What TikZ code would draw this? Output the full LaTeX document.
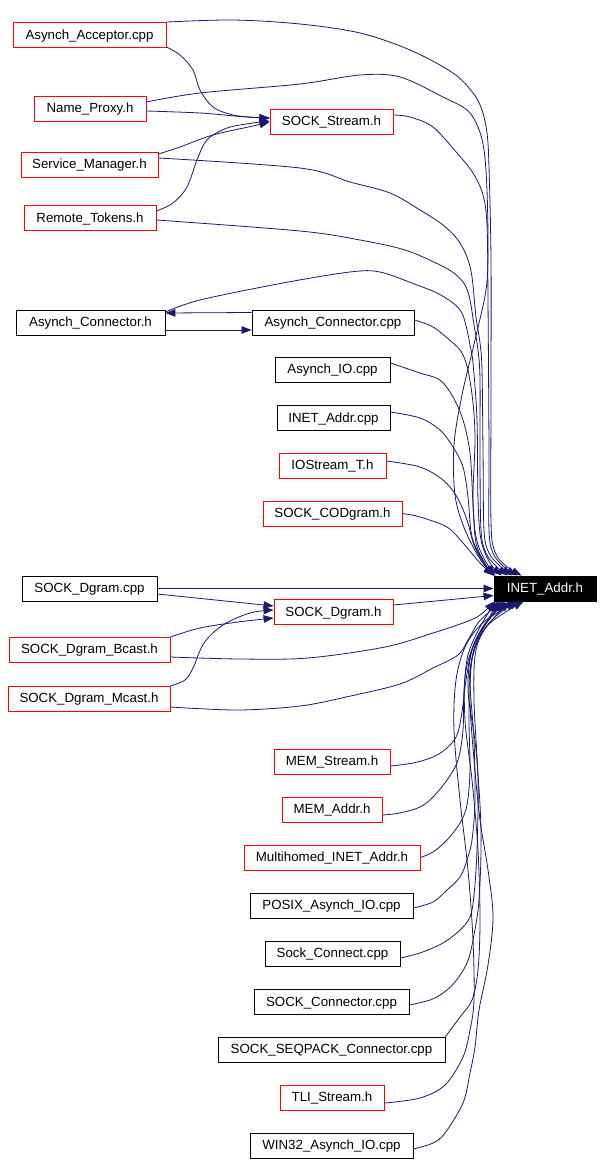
\documentclass[tikz,border=0pt]{standalone}
\usepackage{fontspec}
\newfontfamily\labfont{Liberation Sans}
\usetikzlibrary{arrows.meta}
\definecolor{edgecol}{RGB}{25,25,112}
\begin{document}
\begin{tikzpicture}[x=1pt,y=-1pt,
  box/.style={draw, line width=0.9pt, inner sep=0pt, minimum height=25pt, text height=9.6pt, text depth=1pt, font=\labfont\fontsize{13.3}{15}\selectfont, fill=white},
  rbox/.style={box, draw=red},
  bbox/.style={box, draw=black},
  rootbox/.style={box, draw=black, fill=black, text=white},
  edge/.style={draw=edgecol, line width=0.8pt, -{Triangle[length=10pt,width=7.5pt]}},
  curved/.style={edge, smooth, tension=0.55}]
\useasboundingbox (0,0) rectangle (602,1164);
\fill[white] (0,0) rectangle (602,1164);

% nodes
\node[rbox, minimum width=153pt] (aac) at (89.5,35) {Asynch\_Acceptor.cpp};
\node[rbox, minimum width=112pt] (np) at (90,108.5) {Name\_Proxy.h};
\node[rbox, minimum width=137pt] (sm) at (89.5,164.5) {Service\_Manager.h};
\node[rbox, minimum width=132pt] (rt) at (90,218) {Remote\_Tokens.h};
\node[rbox, minimum width=123pt] (ss) at (331.5,121.5) {SOCK\_Stream.h};
\node[bbox, minimum width=149pt] (ach) at (90.5,322.5) {Asynch\_Connector.h};
\node[bbox, minimum width=162pt] (acc) at (333,322.5) {Asynch\_Connector.cpp};
\node[bbox, minimum width=115pt] (aio) at (332.5,369.5) {Asynch\_IO.cpp};
\node[bbox, minimum width=113pt] (iac) at (333.5,418) {INET\_Addr.cpp};
\node[rbox, minimum width=107pt] (iot) at (332.5,465.5) {IOStream\_T.h};
\node[rbox, minimum width=139pt] (scod) at (332.5,513.5) {SOCK\_CODgram.h};
\node[bbox, minimum width=135pt] (sdc) at (89.5,588.5) {SOCK\_Dgram.cpp};
\node[rootbox, minimum width=102pt] (inet) at (545,588.5) {INET\_Addr.h};
\node[rbox, minimum width=119pt] (sdh) at (333.5,612) {SOCK\_Dgram.h};
\node[rbox, minimum width=161pt] (sdb) at (89.5,649.5) {SOCK\_Dgram\_Bcast.h};
\node[rbox, minimum width=162pt] (sdm) at (89,698.5) {SOCK\_Dgram\_Mcast.h};
\node[rbox, minimum width=116pt] (mems) at (332,761.5) {MEM\_Stream.h};
\node[rbox, minimum width=100pt] (mema) at (332,809.5) {MEM\_Addr.h};
\node[rbox, minimum width=176pt] (mia) at (332,857.5) {Multihomed\_INET\_Addr.h};
\node[bbox, minimum width=163pt] (pai) at (331.5,905.5) {POSIX\_Asynch\_IO.cpp};
\node[bbox, minimum width=135pt] (sc) at (332.5,953.5) {Sock\_Connect.cpp};
\node[bbox, minimum width=155pt] (sco) at (331.5,1002) {SOCK\_Connector.cpp};
\node[bbox, minimum width=227pt] (ssp) at (331.5,1049.5) {SOCK\_SEQPACK\_Connector.cpp};
\node[rbox, minimum width=104pt] (tli) at (332,1097.5) {TLI\_Stream.h};
\node[bbox, minimum width=163pt] (win) at (331.5,1145.5) {WIN32\_Asynch\_IO.cpp};

% edges into SOCK_Stream.h
\draw[curved] plot coordinates {([yshift=1pt]aac.south east) (180,55) (193,70) (200,90) (213,107) (233,115) (257,117.5) ([yshift=4pt]ss.west)};
\draw[curved] plot coordinates {([yshift=-2.5pt]np.east) (200,113) (240,116.5) ([yshift=3pt]ss.west)};
\draw[curved] plot coordinates {([yshift=10.5pt]sm.east) (180,147) (213,135) (253,126) ([yshift=-0.5pt]ss.west)};
\draw[curved] plot coordinates {([yshift=7pt]rt.east) (173,203) (187,187) (197,160) (207,140) (227,128) (253,123) ([yshift=0.5pt]ss.west)};

% Asynch_Connector pair
\draw[edge] ([yshift=-7.5pt]ach.east) -- ([yshift=-7.5pt]acc.west);
\draw[edge] ([yshift=10pt]acc.west) -- ([yshift=9.5pt]ach.east);

% edges into SOCK_Dgram.h
\draw[edge] ([yshift=-5.5pt]sdc.east) -- ([yshift=6pt]sdh.west);
\draw[curved] plot coordinates {([yshift=12.5pt]sdb.east) (200,628) (238,622) ([yshift=-6pt]sdh.west)};
\draw[curved] plot coordinates {([yshift=12.5pt]sdm.east) (185,680) (193,668) (204,643) (223,625) (250,613) ([yshift=2pt]sdh.west)};

% edges into INET_Addr.h from above
\draw[curved] plot coordinates {(aac.north east) (233,20) (300,24) (360,33) (410,50) (453,73) (473,93) (482,110) (487,133) (489,167) (491,260) (491,400) (491,522) (495,552) (506,566) ([xshift=28pt]inet.north west)};
\draw[curved] plot coordinates {([yshift=6.5pt]np.east) (200,93) (300,84) (360,75) (400,77) (443,97) (467,110) (478,127) (484,150) (487,190) (488,250) (486,290) (475,340) (462,395) (454,445) (455,495) (465,530) (482,562) ([xshift=2pt]inet.north west)};
\draw[curved] plot coordinates {([yshift=6.5pt]ss.east) (410,117) (433,127) (457,153) (473,173) (483,195) (487,225) (488,300) (489,450) (489,530) (493,553) (503,566) ([xshift=23pt]inet.north west)};
\draw[curved] plot coordinates {([yshift=6.5pt]sm.east) (300,168) (350,182) (390,193) (420,210) (443,225) (458,240) (467,257) (472,277) (476,317) (480,343) (482,370) (483,450) (484,530) (489,553) (500,566) ([xshift=18pt]inet.north west)};
\draw[curved] plot coordinates {([yshift=-2pt]rt.east) (300,231) (360,240) (405,250) (440,265) (455,274) (465,285) (470,300) (474,325) (478,350) (480,380) (480,460) (481,530) (486,553) (496,566) ([xshift=14pt]inet.north west)};
\draw[curved] plot coordinates {([yshift=10.5pt]ach.east) (200,300) (283,283) (350,272) (380,272) (417,285) (437,293) (453,303) (462,313) (467,330) (470,345) (473,363) (477,420) (478,500) (481,540) (490,563) ([xshift=8pt]inet.north west)};
\draw[curved] plot coordinates {([yshift=2.5pt]acc.east) (433,327) (453,343) (462,353) (468,370) (473,403) (475,440) (473,503) (478,545) ([xshift=1pt]inet.north west)};
\draw[curved] plot coordinates {([yshift=6.5pt]aio.east) (420,373) (440,380) (453,397) (463,420) (470,453) (473,503) (476,543) (486,565) (inet.north west)};
\draw[curved] plot coordinates {([yshift=6pt]iac.east) (420,418) (440,430) (453,447) (463,467) (468,497) (472,537) (484,563) (inet.north west)};
\draw[curved] plot coordinates {([yshift=4.5pt]iot.east) (420,467) (443,480) (457,497) (467,520) (474,545) (485,565) (inet.north west)};
\draw[curved] plot coordinates {(scod.east) (420,517) (447,527) (463,543) (480,563) (inet.north west)};

% straight-ish edges from the left
\draw[edge] (sdc.east) -- (inet.west);
\draw[edge] ([yshift=7pt]sdh.east) -- ([yshift=-7pt]inet.west);
\draw[curved] plot coordinates {([yshift=-7.5pt]sdb.east) (240,659) (308,658) (385,647) (433,633) (463,623) (477,617) (486,610) ([xshift=1pt]inet.south west)};
\draw[curved] plot coordinates {([yshift=-8.5pt]sdm.east) (238,710) (300,706) (346,697) (400,684) (433,668) (458,655) (468,640) (478,623) (490,611) ([xshift=6pt]inet.south west)};

% edges into INET_Addr.h from below
\draw[curved] plot coordinates {([yshift=-4.5pt]mems.east) (413,763) (433,757) (447,748) (457,735) (462,712) (466,680) (472,650) (484,625) ([xshift=10pt]inet.south west)};
\draw[curved] plot coordinates {([yshift=-5.5pt]mema.east) (400,813) (420,807) (433,797) (447,780) (458,760) (463,730) (464,690) (468,655) (480,627) ([xshift=2pt]inet.south west)};
\draw[curved] plot coordinates {(mia.east) (433,852) (447,840) (460,823) (467,805) (470,770) (469,720) (470,670) (478,640) (492,620) ([xshift=16pt]inet.south west)};
\draw[curved] plot coordinates {([yshift=-2.5pt]pai.east) (433,902) (447,890) (460,877) (467,860) (472,840) (475,800) (474,740) (470,680) (475,645) (486,624) ([xshift=4pt]inet.south west)};
\draw[curved] plot coordinates {([yshift=-4.5pt]sc.east) (420,953) (443,943) (460,930) (470,917) (474,895) (477,850) (478,780) (474,700) (476,650) (490,622) ([xshift=22pt]inet.south west)};
\draw[curved] plot coordinates {([yshift=-3pt]sco.east) (430,1000) (443,993) (455,982) (467,963) (473,940) (479,900) (481,830) (476,750) (468,690) (472,650) (484,626) ([xshift=8pt]inet.south west)};
\draw[curved] plot coordinates {(ssp.north east) (460,1017) (472,1000) (478,970) (480,920) (478,850) (472,780) (465,720) (466,670) (480,632) ([xshift=12pt]inet.south west)};
\draw[curved] plot coordinates {([yshift=-5.5pt]tli.east) (420,1098) (445,1085) (463,1057) (470,1030) (474,1000) (473,940) (468,870) (460,800) (454,730) (456,680) (466,645) (486,620) ([xshift=26pt]inet.south west)};
\draw[curved] plot coordinates {([yshift=-3.5pt]win.east) (433,1143) (445,1133) (463,1103) (470,1073) (475,1047) (479,1010) (488,965) (493,917) (488,870) (480,820) (474,760) (470,700) (473,655) (488,625) ([xshift=30pt]inet.south west)};
\end{tikzpicture}
\end{document}
